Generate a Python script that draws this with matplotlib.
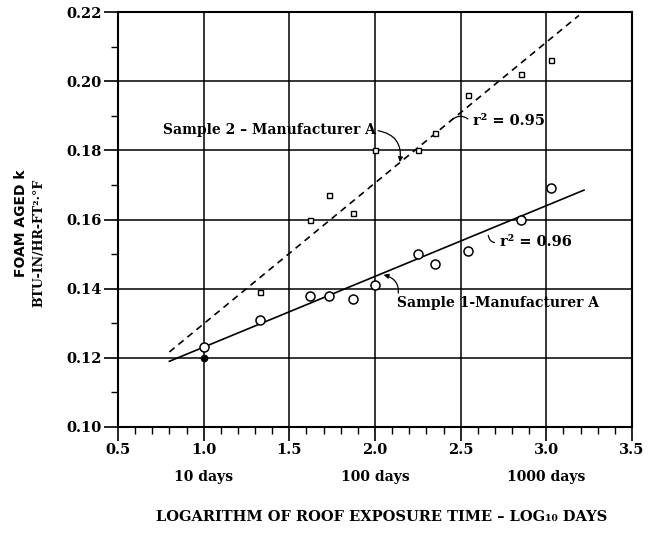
import matplotlib
matplotlib.use("Agg")
import matplotlib.pyplot as plt
from matplotlib.transforms import blended_transform_factory

# sample 1 (circles) - log10 days vs aged k
s1_x = [1.0, 1.33, 1.62, 1.73, 1.87, 2.0, 2.25, 2.35, 2.54, 2.85, 3.03]
s1_k = [0.123, 0.131, 0.138, 0.138, 0.137, 0.141, 0.150, 0.147, 0.151, 0.160, 0.169]
s1_fill_x = [1.0]
s1_fill_k = [0.120]
# sample 2 (squares)
s2_x = [1.33, 1.62, 1.73, 1.87, 2.0, 2.25, 2.35, 2.54, 2.85, 3.03]
s2_k = [0.139, 0.160, 0.167, 0.162, 0.180, 0.180, 0.185, 0.196, 0.202, 0.206]
# regression lines (end points)
fit1_x = [0.80, 3.22]
fit1_k = [0.119, 0.1685]
fit2_x = [0.80, 3.19]
fit2_k = [0.1217, 0.219]

xticks = [0.5, 1.0, 1.5, 2.0, 2.5, 3.0, 3.5]
yticks = [0.10, 0.12, 0.14, 0.16, 0.18, 0.20, 0.22]
day_labels = {1.0: "10 days", 2.0: "100 days", 3.0: "1000 days"}

SERIF = ["DejaVu Serif", "DejaVu Sans"]

fig = plt.figure(figsize=(6.58, 5.40), dpi=100)
ax = fig.add_axes([118/658, 1 - 427/540, (632-118)/658, (427-12)/540])

ax.set_xlim(0.5, 3.5)
ax.set_ylim(0.10, 0.22)
ax.set_xticks(xticks)
ax.set_yticks(yticks)
ax.set_xticks([x/10 for x in range(5, 36)], minor=True)
ax.set_yticks([0.11, 0.13, 0.15, 0.17, 0.19, 0.21], minor=True)
ax.set_xticklabels(["%.1f" % v for v in xticks], family=SERIF, weight="bold", fontsize=10.5)
ax.set_yticklabels(["%.2f" % v for v in yticks], family=SERIF, weight="bold", fontsize=10.5)
ax.tick_params(which="major", direction="out", length=10, width=1.2, pad=1.5, color="black")
ax.tick_params(which="minor", direction="out", length=5, width=1.0, color="black")
for s in ax.spines.values():
    s.set_linewidth(1.5)
ax.grid(True, which="major", color="black", linewidth=1.1)

ax.plot(fit1_x, fit1_k, color="black", linewidth=1.2)
ax.plot(fit2_x, fit2_k, color="black", linewidth=1.2, linestyle=(0, (4, 3)))
ax.plot(s1_x, s1_k, "o", markersize=6.5, markerfacecolor="white", markeredgecolor="black",
        markeredgewidth=1.1, zorder=4)
ax.plot(s1_fill_x, s1_fill_k, "o", markersize=4.5, color="black", zorder=4)
ax.plot(s2_x, s2_k, "s", markersize=3.6, markerfacecolor="white", markeredgecolor="black",
        markeredgewidth=1.0, zorder=4)

arrow = dict(arrowstyle="-|>", color="black", lw=0.9, mutation_scale=7)
ax.annotate("Sample 2 \u2013 Manufacturer A", xy=(2.145, 0.1766), xytext=(0.76, 0.1858),
            family=SERIF, weight="bold", fontsize=10, va="center", ha="left",
            arrowprops=dict(arrow, connectionstyle="arc3,rad=-0.5", shrinkA=0, shrinkB=0,
                            relpos=(1.0, 0.5)))
ax.annotate("r\u00b2 = 0.95", xy=(2.43, 0.188), xytext=(2.57, 0.1884),
            family=SERIF, weight="bold", fontsize=10.5, va="center", ha="left",
            arrowprops=dict(arrowstyle="-", color="black", lw=0.9,
                            connectionstyle="arc3,rad=0.6", relpos=(0, 0.3)))
ax.annotate("r\u00b2 = 0.96", xy=(2.66, 0.1562), xytext=(2.73, 0.1534),
            family=SERIF, weight="bold", fontsize=10.5, va="center", ha="left",
            arrowprops=dict(arrowstyle="-", color="black", lw=0.9,
                            connectionstyle="arc3,rad=-0.6", relpos=(0, 0.5)))
ax.annotate("Sample 1-Manufacturer A", xy=(2.05, 0.1440), xytext=(2.13, 0.1359),
            family=SERIF, weight="bold", fontsize=10, va="center", ha="left",
            arrowprops=dict(arrow, connectionstyle="arc3,rad=0.5", shrinkA=0, shrinkB=0,
                            relpos=(0, 0.8)))

trans = blended_transform_factory(ax.transData, ax.transAxes)
for xv, lab in day_labels.items():
    ax.text(xv, -0.120, lab, transform=trans, ha="center", va="center",
            family=SERIF, weight="bold", fontsize=10)

fig.text(382/658, 1 - 517/540, "LOGARITHM OF ROOF EXPOSURE TIME \u2013 LOG\u2081\u2080 DAYS",
         ha="center", va="center", family=SERIF, weight="bold", fontsize=10.5)
fig.text(21/658, 1 - 223/540, "FOAM AGED k", rotation=90, ha="center", va="center",
         family="DejaVu Sans", weight="bold", fontsize=10)
fig.text(39/658, 1 - 243/540, "BTU-IN/HR-FT\u00b2\u00b7\u00b0F", rotation=90, ha="center",
         va="center", family=SERIF, weight="bold", fontsize=9)

fig.savefig("out.png", dpi=100)
